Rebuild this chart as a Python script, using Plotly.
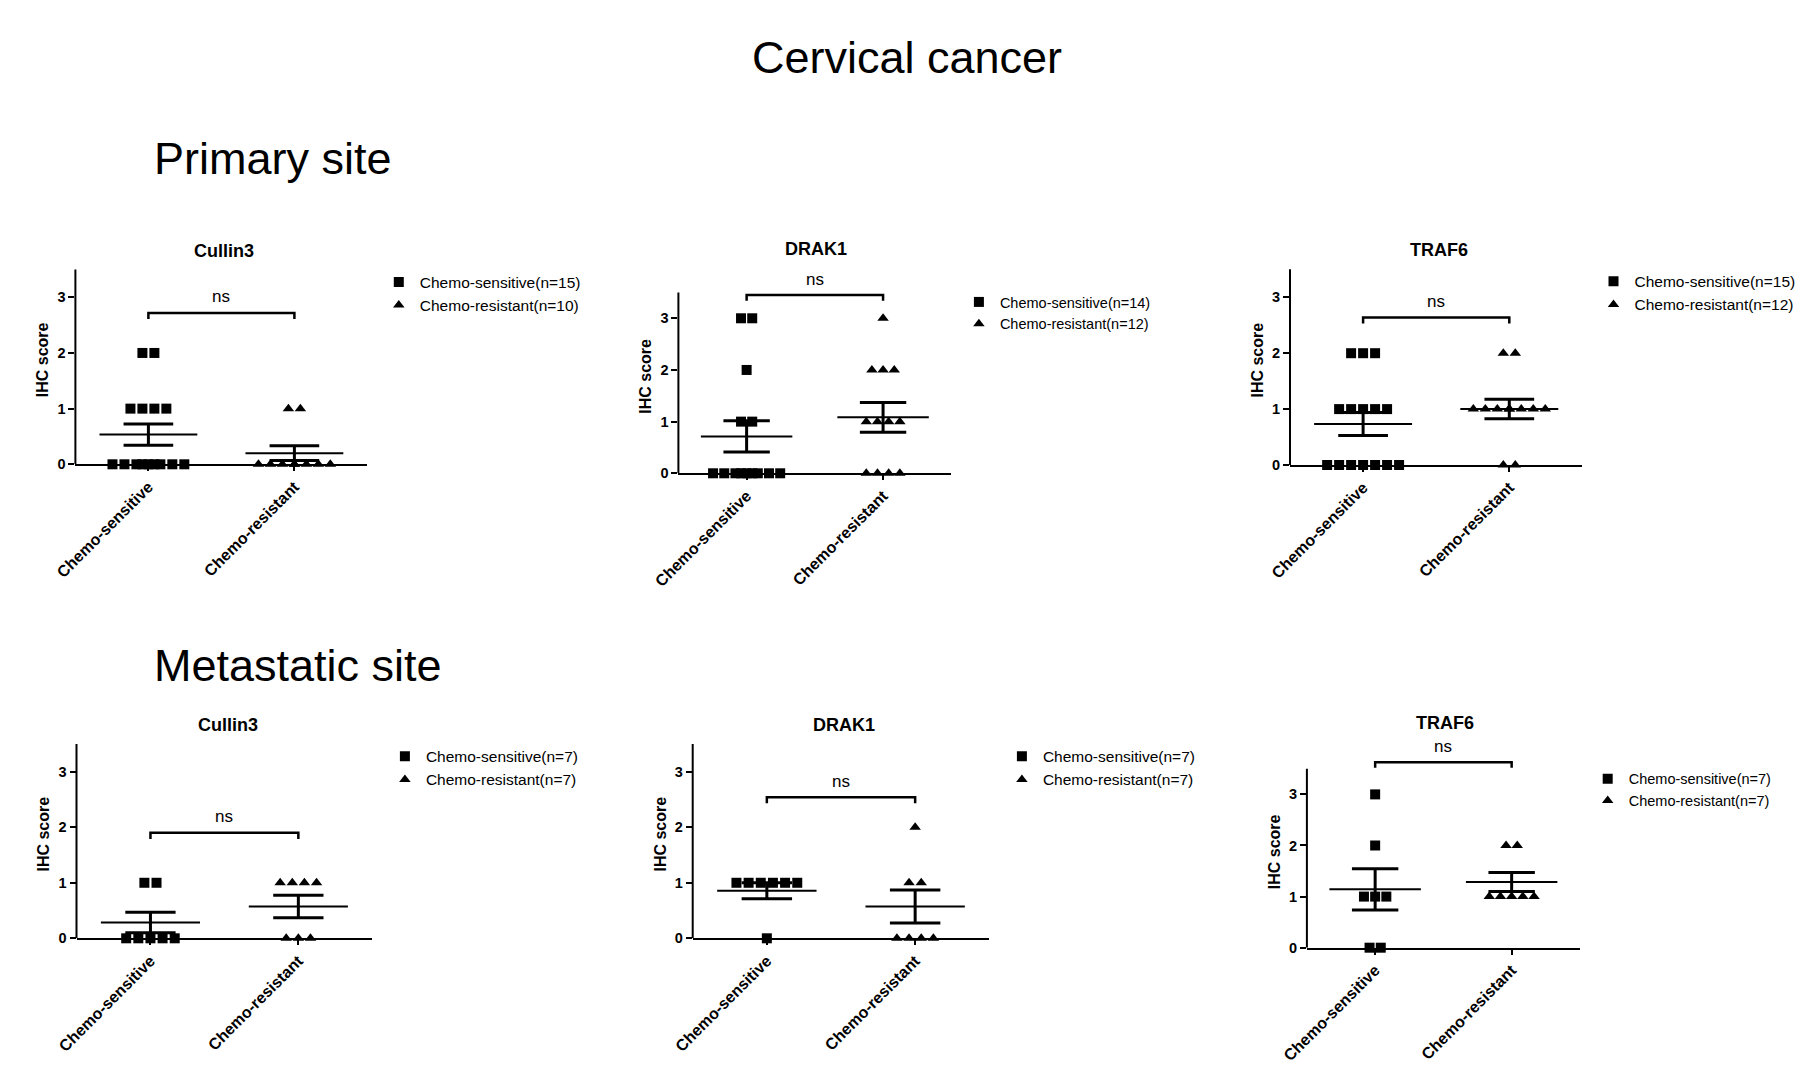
import numpy as np
import plotly.graph_objects as go

W, H = 1807, 1065
FONT = "Liberation Sans, Arial, Helvetica, sans-serif"

# ---------------- data ----------------
main_title = "Cervical cancer"
site_titles = ["Primary site", "Metastatic site"]
gene_names = ["Cullin3", "DRAK1", "TRAF6"]
groups = ["Chemo-sensitive", "Chemo-resistant"]
y_ticks = [0, 1, 2, 3]
sig_label = "ns"
y_label = "IHC score"

primary_cullin3_sensitive = [2, 2, 1, 1, 1, 1, 0, 0, 0, 0, 0, 0, 0, 0, 0]
primary_cullin3_resistant = [1, 1, 0, 0, 0, 0, 0, 0, 0, 0]
primary_drak1_sensitive = [3, 3, 2, 1, 1, 0, 0, 0, 0, 0, 0, 0, 0, 0]
primary_drak1_resistant = [3, 2, 2, 2, 1, 1, 1, 1, 0, 0, 0, 0]
primary_traf6_sensitive = [2, 2, 2, 1, 1, 1, 1, 1, 0, 0, 0, 0, 0, 0, 0]
primary_traf6_resistant = [2, 2, 1, 1, 1, 1, 1, 1, 1, 1, 0, 0]

metastatic_cullin3_sensitive = [1, 1, 0, 0, 0, 0, 0]
metastatic_cullin3_resistant = [1, 1, 1, 1, 0, 0, 0]
metastatic_drak1_sensitive = [1, 1, 1, 1, 1, 1, 0]
metastatic_drak1_resistant = [2, 1, 1, 0, 0, 0, 0]
metastatic_traf6_sensitive = [3, 2, 1, 1, 1, 0, 0]
metastatic_traf6_resistant = [2, 2, 1, 1, 1, 1, 1]

panel_data = [
    (gene_names[0], primary_cullin3_sensitive, primary_cullin3_resistant),
    (gene_names[1], primary_drak1_sensitive, primary_drak1_resistant),
    (gene_names[2], primary_traf6_sensitive, primary_traf6_resistant),
    (gene_names[0], metastatic_cullin3_sensitive, metastatic_cullin3_resistant),
    (gene_names[1], metastatic_drak1_sensitive, metastatic_drak1_resistant),
    (gene_names[2], metastatic_traf6_sensitive, metastatic_traf6_resistant),
]

# ---------------- layout geometry (pixels) ----------------
geometry = [
    dict(xl=75.4, xr=367.4, y0=464.3, unit=55.67, title=(223.9, 251), leg=(419.8, 283.3), lf=15.5, br=2.72),
    dict(xl=678.4, xr=951.3, y0=473.3, unit=51.67, title=(816.2, 249.3), leg=(999.9, 304.0), lf=14.5, br=3.45),
    dict(xl=1290.0, xr=1582.4, y0=465.0, unit=55.9, title=(1439.2, 250), leg=(1634.5, 282.7), lf=15.5, br=2.64),
    dict(xl=76.5, xr=372.3, y0=938.3, unit=55.53, title=(227.7, 725), leg=(425.9, 757.7), lf=15.5, br=1.90),
    dict(xl=692.7, xr=989.3, y0=938.3, unit=55.53, title=(843.9, 725), leg=(1042.9, 757.7), lf=15.5, br=2.54),
    dict(xl=1306.9, xr=1579.9, y0=947.7, unit=51.1, title=(1445.4, 722.7), leg=(1628.7, 780.7), lf=14.5, br=3.63),
]
Y_TOP = 3.75
AXIS_TOP = 3.5
BR_DROP = 0.11
MEAN_HALF = 0.335
CAP_HALF = 0.17
SYMBOLS = ["square", "triangle-up"]
SIZES = [10, 10]


def spread(values, spacing=0.082, max_slots=7):
    """Scatter-dot layout: points sharing a value sit side by side in up to
    max_slots columns; any extra points overlap near the centre."""
    vals = list(values)
    out = [0.0] * len(vals)
    for level in sorted(set(vals)):
        idx = [i for i, v in enumerate(vals) if v == level]
        k = len(idx)
        main = min(k, max_slots)
        offs = [(j - (main - 1) / 2) * spacing for j in range(main)]
        extra = k - main
        offs += [(e - (extra - 1) / 2) * spacing for e in range(extra)]
        for i, o in zip(idx, offs):
            out[i] = o
    return out


def px_x(p):
    return p / W


def px_y(p):
    return 1 - p / H


fig = go.Figure()
layout = dict(
    width=W, height=H, margin=dict(l=0, r=0, t=0, b=0, pad=0, autoexpand=False),
    paper_bgcolor="white", plot_bgcolor="white", template="none",
    font=dict(family=FONT, color="black"),
    annotations=[], shapes=[],
)

for n, ((gene, sens, res), g) in enumerate(zip(panel_data, geometry), start=1):
    sfx = "" if n == 1 else str(n)
    xname, yname = "x" + sfx, "y" + sfx
    legname = "legend" + sfx

    layout["xaxis" + sfx] = dict(
        domain=[px_x(g["xl"]), px_x(g["xr"])], anchor=yname, automargin=False,
        range=[-0.5, 1.5], tickvals=[0, 1], ticktext=groups, tickangle=-45,
        tickfont=dict(size=16, family=FONT, weight="bold", color="black"),
        ticks="outside", ticklen=5, tickwidth=2, tickcolor="black",
        showline=True, linewidth=2, linecolor="black",
        showgrid=False, zeroline=False, fixedrange=True,
    )
    layout["yaxis" + sfx] = dict(
        domain=[px_y(g["y0"]), px_y(g["y0"] - Y_TOP * g["unit"])], anchor=xname,
        automargin=False,
        range=[0, Y_TOP], tickvals=y_ticks,
        tickfont=dict(size=14.5, family=FONT, weight="bold", color="black"),
        ticks="outside", ticklen=6, tickwidth=2, tickcolor="black",
        showline=False, showgrid=False, zeroline=False, fixedrange=True,
        title=dict(text=y_label, standoff=4,
                   font=dict(size=16, family=FONT, weight="bold", color="black")),
    )
    # y axis line (only up to 3.5)
    layout["shapes"].append(dict(
        type="line", xref=xname + " domain", yref=yname, x0=0, x1=0, y0=0, y1=AXIS_TOP,
        line=dict(color="black", width=2), layer="above"))

    # points
    for gi, vals in enumerate([sens, res]):
        offs = spread(vals)
        fig.add_trace(go.Scatter(
            x=[gi + o for o in offs], y=vals, mode="markers",
            marker=dict(symbol=SYMBOLS[gi], size=SIZES[gi], color="black", line=dict(width=0)),
            name=f"{groups[gi]}(n={len(vals)})", legend=legname,
            xaxis=xname, yaxis=yname, cliponaxis=False, hoverinfo="skip",
        ))
    # mean and SEM
    for gi, vals in enumerate([sens, res]):
        arr = np.asarray(vals, dtype=float)
        m = arr.mean()
        sem = arr.std(ddof=1) / np.sqrt(len(arr))
        fig.add_trace(go.Scatter(
            x=[gi - MEAN_HALF, gi + MEAN_HALF], y=[m, m], mode="lines",
            line=dict(color="black", width=2), showlegend=False,
            xaxis=xname, yaxis=yname, hoverinfo="skip"))
        fig.add_trace(go.Scatter(
            x=[gi - CAP_HALF, gi + CAP_HALF, None, gi, gi, None, gi - CAP_HALF, gi + CAP_HALF],
            y=[m + sem, m + sem, None, m - sem, m + sem, None, m - sem, m - sem],
            mode="lines", line=dict(color="black", width=3), showlegend=False,
            xaxis=xname, yaxis=yname, hoverinfo="skip"))

    # significance bracket
    top = g["br"]
    layout["shapes"].append(dict(
        type="path", xref=xname, yref=yname,
        path=f"M 0,{top - BR_DROP} L 0,{top} L 1,{top} L 1,{top - BR_DROP}",
        line=dict(color="black", width=2.5)))
    layout["annotations"].append(dict(
        text=sig_label, xref=xname, yref=yname, x=0.5, y=top, yshift=16,
        xanchor="center", yanchor="middle", showarrow=False,
        font=dict(size=17, family=FONT, color="black")))

    # panel title
    layout["annotations"].append(dict(
        text=gene, xref="paper", yref="paper", x=px_x(g["title"][0]), y=px_y(g["title"][1]),
        xanchor="center", yanchor="middle", showarrow=False,
        font=dict(size=18, family=FONT, weight="bold", color="black")))

    # legend
    layout[legname] = dict(
        x=px_x(g["leg"][0] - 42), y=px_y(g["leg"][1] - 18),
        xanchor="left", yanchor="top", bgcolor="rgba(0,0,0,0)", borderwidth=0,
        itemwidth=32, tracegroupgap=0,
        font=dict(size=g["lf"], family=FONT, color="black"))

# headings
layout["annotations"].append(dict(
    text=main_title, xref="paper", yref="paper", x=px_x(907), y=px_y(58),
    xanchor="center", yanchor="middle", showarrow=False,
    font=dict(size=45, family=FONT, color="black")))
for txt, yy in zip(site_titles, [158.5, 665]):
    layout["annotations"].append(dict(
        text=txt, xref="paper", yref="paper", x=px_x(152), y=px_y(yy),
        xanchor="left", yanchor="middle", showarrow=False,
        font=dict(size=45, family=FONT, color="black")))

fig.update_layout(**layout)
fig.write_html("out.html", config={"displayModeBar": False},
               post_script="document.body.style.margin='0';document.body.style.overflow='hidden';")
